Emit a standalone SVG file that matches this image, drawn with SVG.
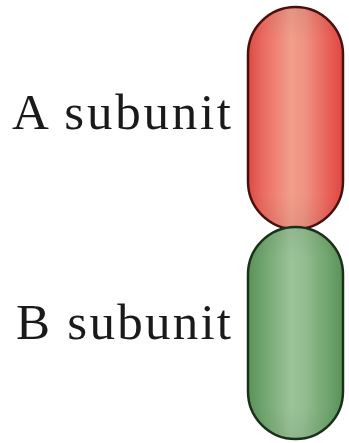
<svg xmlns="http://www.w3.org/2000/svg" width="349" height="443" viewBox="0 0 349 443">
<style>
.lbl{font-family:"Liberation Serif","DejaVu Serif",serif;font-size:51px;fill:#1a1a1a}
.red{fill:url(#gRed);stroke:#4a1010;stroke-width:2.5}
.green{fill:url(#gGreen);stroke:#1a301a;stroke-width:2.5}
.shade{stroke:none}
</style>
<defs>
<linearGradient id="gRed" x1="0" y1="0" x2="1" y2="0">
<stop offset="0" stop-color="#dc4a44"/>
<stop offset="0.15" stop-color="#ea6a5f"/>
<stop offset="0.45" stop-color="#f29e8c"/>
<stop offset="0.6" stop-color="#ef9282"/>
<stop offset="0.88" stop-color="#e75a52"/>
<stop offset="1" stop-color="#dc4843"/>
</linearGradient>
<linearGradient id="gGreen" x1="0" y1="0" x2="1" y2="0">
<stop offset="0" stop-color="#5a9258"/>
<stop offset="0.15" stop-color="#6ea46b"/>
<stop offset="0.45" stop-color="#9cc399"/>
<stop offset="0.6" stop-color="#93bd90"/>
<stop offset="0.88" stop-color="#6aa067"/>
<stop offset="1" stop-color="#5a9258"/>
</linearGradient>
<linearGradient id="gEnds" x1="0" y1="0" x2="0" y2="1">
<stop offset="0" stop-color="#000" stop-opacity="0.06"/>
<stop offset="0.15" stop-color="#000" stop-opacity="0"/>
<stop offset="0.85" stop-color="#000" stop-opacity="0"/>
<stop offset="1" stop-color="#000" stop-opacity="0.06"/>
</linearGradient>
</defs>
<rect width="349" height="443" fill="#ffffff"/>
<g id="labelA">
<text class="lbl" x="12" y="129" textLength="219" lengthAdjust="spacing">A subunit</text>
</g>
<g id="labelB">
<text class="lbl" x="16" y="339" textLength="215" lengthAdjust="spacing">B subunit</text>
</g>
<g id="subunitA">
<rect class="red" x="248" y="7" width="95" height="222" rx="47.5" ry="47.5"/>
<rect class="shade" x="249" y="8" width="93" height="220" rx="46.5" ry="46.5" fill="url(#gEnds)"/>
</g>
<g id="subunitB">
<rect class="green" x="248" y="227" width="95" height="212" rx="47.5" ry="47.5"/>
<rect class="shade" x="249" y="228" width="93" height="210" rx="46.5" ry="46.5" fill="url(#gEnds)"/>
</g>
<g id="connectors"/>
</svg>
